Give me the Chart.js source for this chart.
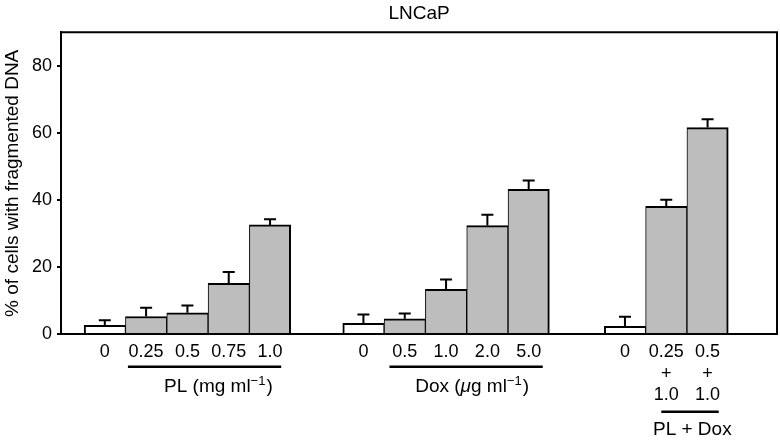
<!DOCTYPE html>
<html>
<head>
<meta charset="utf-8">
<script src="https://cdn.jsdelivr.net/npm/chart.js@4.4.1/dist/chart.umd.min.js"></script>
<style>
  body { margin: 0; background: #fff; }
</style>
</head>
<body>
<canvas id="myChart" width="780" height="442"></canvas>
<script>
// data
const plLabels = ['0', '0.25', '0.5', '0.75', '1.0']
const plValues = [2.7, 5.3, 6.4, 15.2, 32.6]
const plErrors = [1.5, 2.6, 2.2, 3.4, 1.7]

const doxLabels = ['0', '0.5', '1.0', '2.0', '5.0']
const doxValues = [3.3, 4.6, 13.4, 32.4, 43.2]
const doxErrors = [2.6, 1.6, 2.9, 3.2, 2.6]

const comboLabels = [['0'], ['0.25', '+', '1.0'], ['0.5', '+', '1.0']]
const comboValues = [2.4, 38.1, 61.6]
const comboErrors = [2.8, 2.0, 2.5]

const yTicks = [0, 20, 40, 60, 80]

// layout: where each group starts on the x scale (1 unit = 1 bar)
const groupStart = [0, 6.26, 12.59]
const groups = [
  { labels: plLabels, values: plValues, errors: plErrors },
  { labels: doxLabels, values: doxValues, errors: doxErrors },
  { labels: comboLabels, values: comboValues, errors: comboErrors }
]

const points = []
const tickLabels = []
const errors = []
const fills = []
const borders = []
groups.forEach((g, gi) => {
  g.values.forEach((v, i) => {
    points.push({ x: groupStart[gi] + i, y: v })
    tickLabels.push(g.labels[i])
    errors.push(g.errors[i])
    fills.push(i === 0 ? '#ffffff' : '#bdbdbd')
    borders.push({ top: 2, bottom: 0, left: i === 0 ? 2 : 1, right: i === g.values.length - 1 ? 2 : 1 })
  })
})

// underlines and captions below the tick labels
const groupNotes = [
  { from: 0.56, to: 4.27, lineY: 366.7, text: [['PL (mg ml'], ['\u22121', 'sup'], [')']], at: 2.75, textY: 387 },
  { from: 6.89, to: 10.6, lineY: 366.7, text: [['Dox ('], ['\u03bc', 'it'], ['g ml'], ['\u22121', 'sup'], [')']], at: 8.89, textY: 387 },
  { from: 13.47, to: 14.86, lineY: 411.7, text: [['PL + Dox']], at: 14.22, textY: 430 }
]

const family = "'Liberation Sans', Arial, Helvetica, sans-serif"
Chart.defaults.font.family = family
Chart.defaults.color = '#000'

const extras = {
  id: 'extras',
  afterDatasetsDraw (chart) {
    const { ctx, chartArea: a, scales: { x, y } } = chart
    ctx.save()
    ctx.strokeStyle = '#000'
    ctx.lineWidth = 2
    // top and right frame
    ctx.beginPath()
    ctx.moveTo(a.left - 1, a.top)
    ctx.lineTo(a.right, a.top)
    ctx.lineTo(a.right, a.bottom)
    ctx.stroke()

    // error bars (upper only)
    chart.getDatasetMeta(0).data.forEach((bar, i) => {
      const v = points[i].y
      const top = y.getPixelForValue(v + errors[i])
      ctx.beginPath()
      ctx.moveTo(bar.x, bar.y)
      ctx.lineTo(bar.x, top)
      ctx.moveTo(bar.x - 6, top)
      ctx.lineTo(bar.x + 6, top)
      ctx.stroke()
    })

    // group underlines + captions
    ctx.textBaseline = 'middle'
    groupNotes.forEach(n => {
      ctx.lineWidth = 2.5
      ctx.beginPath()
      ctx.moveTo(x.getPixelForValue(n.from), n.lineY)
      ctx.lineTo(x.getPixelForValue(n.to), n.lineY)
      ctx.stroke()

      const fontFor = kind => kind === 'sup' ? `13px ${family}` : kind === 'it' ? `italic 19px ${family}` : `19px ${family}`
      let w = 0
      n.text.forEach(([t, kind]) => { ctx.font = fontFor(kind); w += ctx.measureText(t).width + (kind === 'sup' ? 1 : 0) })
      let cx = x.getPixelForValue(n.at) - w / 2
      ctx.textAlign = 'left'
      ctx.fillStyle = '#000'
      n.text.forEach(([t, kind]) => {
        ctx.font = fontFor(kind)
        ctx.fillText(t, cx, kind === 'sup' ? n.textY - 6 : n.textY)
        cx += ctx.measureText(t).width + (kind === 'sup' ? 1 : 0)
      })
    })
    ctx.restore()
  }
}

const ctx = document.getElementById('myChart')
new Chart(ctx, {
  type: 'bar',
  data: {
    datasets: [{
      data: points,
      backgroundColor: fills,
      borderColor: '#000',
      borderWidth: borders,
      borderSkipped: false,
      barPercentage: 1,
      categoryPercentage: 1
    }]
  },
  plugins: [extras],
  options: {
    responsive: false,
    animation: false,
    layout: { padding: { left: 0, right: 3, top: 0, bottom: 0 } },
    plugins: {
      legend: { display: false },
      tooltip: { enabled: false },
      title: {
        display: true,
        text: 'LNCaP',
        fullSize: false,
        font: { size: 19, weight: 'normal' },
        padding: { top: 2, bottom: 7.5 }
      }
    },
    scales: {
      x: {
        type: 'linear',
        offset: false,
        min: -1.06,
        max: 16.27,
        grid: { display: false, drawTicks: false, offset: false },
        border: { display: true, color: '#000', width: 2, z: 1 },
        afterBuildTicks: scale => { scale.ticks = points.map(p => ({ value: p.x })) },
        afterFit: scale => { scale.height = 107.7 },
        ticks: {
          autoSkip: false,
          maxRotation: 0,
          padding: 7,
          font: { size: 18, lineHeight: 1.2 },
          callback: (v, i) => tickLabels[i]
        }
      },
      y: {
        min: 0,
        max: 90,
        grid: { display: true, drawOnChartArea: false, drawTicks: true, tickLength: 4, color: '#000', lineWidth: 2 },
        border: { display: true, color: '#000', width: 2 },
        afterBuildTicks: scale => { scale.ticks = yTicks.map(v => ({ value: v })) },
        afterFit: scale => { scale.width = 61 },
        ticks: { padding: 5, font: { size: 18 } },
        title: {
          display: true,
          text: '% of cells with fragmented DNA',
          font: { size: 19 },
          padding: { top: 1, bottom: 0 }
        }
      }
    }
  }
})
</script>
</body>
</html>
